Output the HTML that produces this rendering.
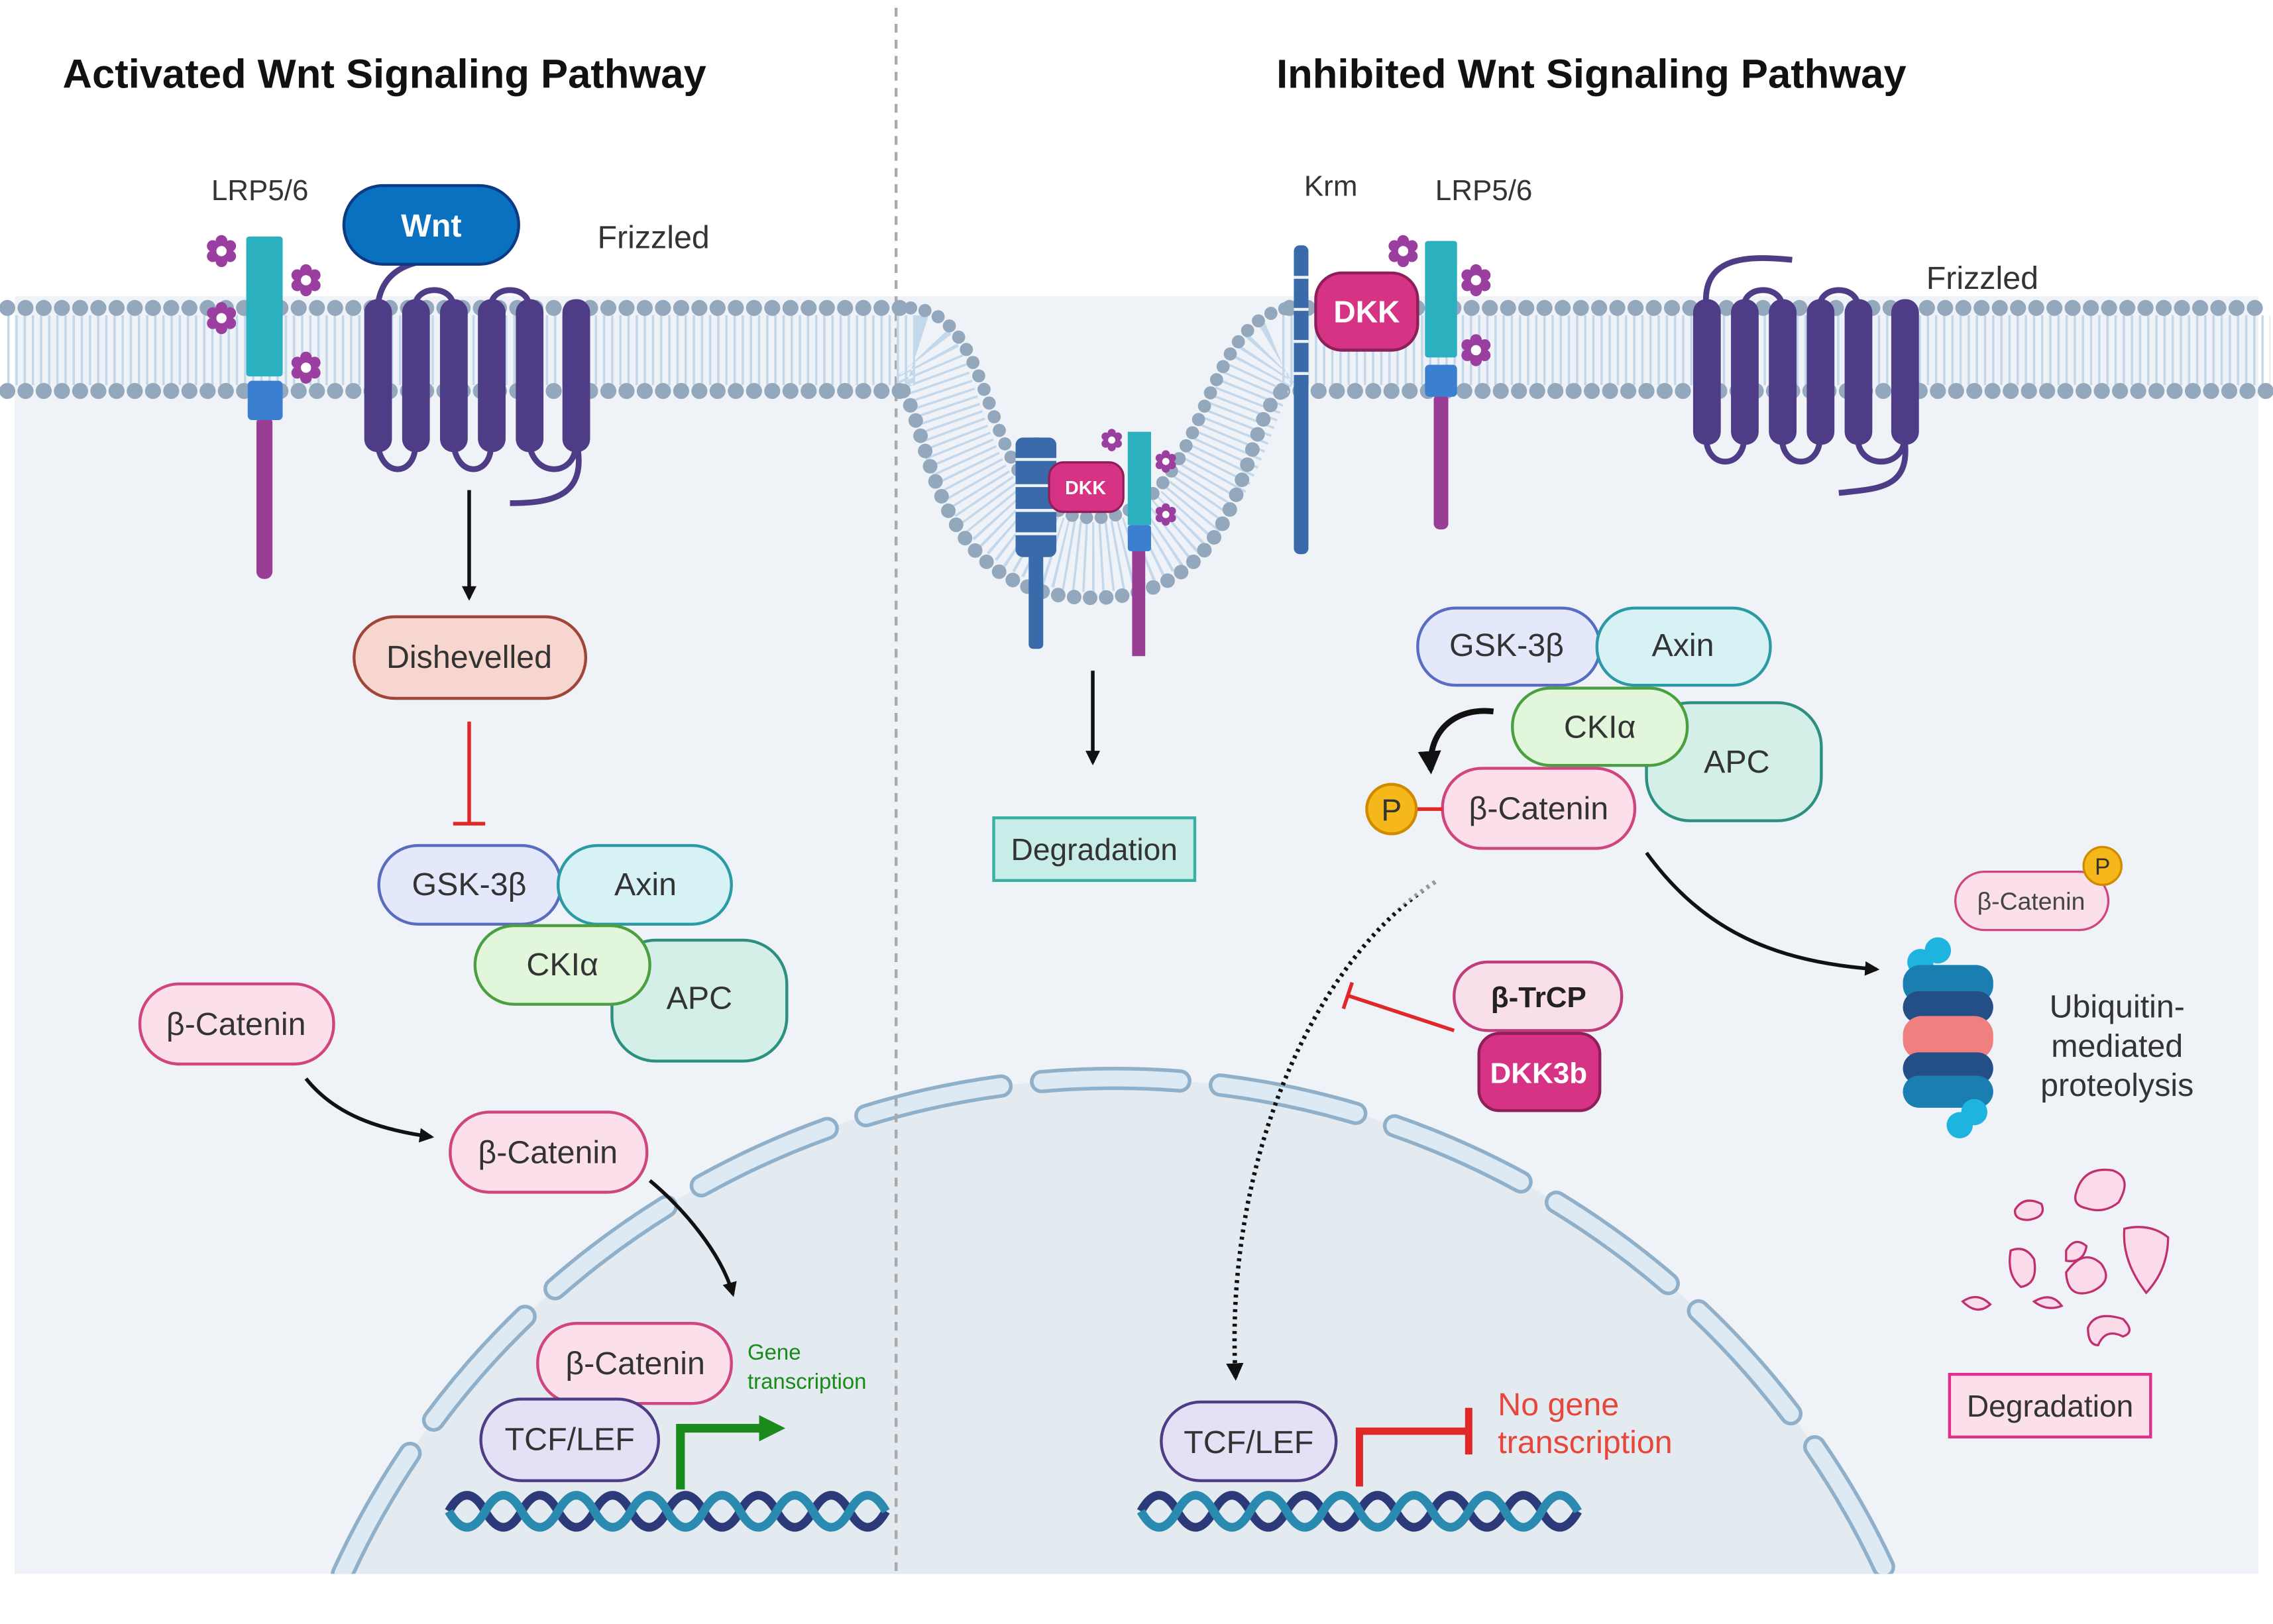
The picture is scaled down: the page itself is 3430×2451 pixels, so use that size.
<!DOCTYPE html>
<html><head><meta charset="utf-8"><style>
html,body{margin:0;padding:0;background:#fff}
svg{display:block}
text{font-family:"Liberation Sans",sans-serif}
</style></head><body>
<svg width="3430" height="2451" viewBox="0 0 1560 1114" xmlns="http://www.w3.org/2000/svg">
<defs>
<marker id="ah" viewBox="0 0 10 10" refX="8" refY="5" markerWidth="4" markerHeight="4" orient="auto"><path d="M0,0L10,5L0,10z" fill="#111"/></marker>
<marker id="ahg" viewBox="0 0 10 10" refX="5" refY="5" markerWidth="3" markerHeight="3" orient="auto"><path d="M0,0L10,5L0,10z" fill="#1a8a1a"/></marker>
<g id="flower" fill="#9a3fa0"><circle cx="0" cy="-7" r="4"/><circle cx="6" cy="-3.5" r="4"/><circle cx="6" cy="3.5" r="4"/><circle cx="0" cy="7" r="4"/><circle cx="-6" cy="3.5" r="4"/><circle cx="-6" cy="-3.5" r="4"/><circle r="6"/><circle r="3.5" fill="#fff"/></g>
<clipPath id="nclip"><rect x="0" y="0" width="1560" height="1080"/></clipPath>
</defs>
<rect width="1560" height="1114" fill="#fff"/>
<rect x="10" y="203" width="1540" height="877" fill="#eff3f8"/>
<g clip-path="url(#nclip)">
<path d="M235,1080 A583,583 0 0 1 1295,1080 Z" fill="#e3eaf0"/>
<path d="M235,1080 A583,583 0 0 1 1295,1080" fill="none" stroke="#8fb0c8" stroke-width="16" stroke-dasharray="95 28" stroke-linecap="round"/>
<path d="M235,1080 A583,583 0 0 1 1295,1080" fill="none" stroke="#dde9f3" stroke-width="11" stroke-dasharray="95 28" stroke-linecap="round"/>
</g>
<line x1="615" y1="5" x2="615" y2="1082" stroke="#aaa" stroke-width="2" stroke-dasharray="6 5"/>
<text x="43" y="60" font-size="28" font-weight="bold" fill="#111">Activated Wnt Signaling Pathway</text>
<text x="876" y="60" font-size="28" font-weight="bold" fill="#111">Inhibited Wnt Signaling Pathway</text>
<g fill="none">
<path d="M5,240 H628" stroke="#c3d8ea" stroke-width="48" stroke-dasharray="1.6 4"/>
<path d="M880,240 H1558" stroke="#c3d8ea" stroke-width="48" stroke-dasharray="1.6 4"/>
<path d="M5,211 H625 M5,268 H620 M885,211 H1558 M880,268 H1558" stroke="#93a8bc" stroke-width="11" stroke-linecap="round" stroke-dasharray="0 12.5"/>
<path d="M628,240 C650,240 650,382 750,382 C850,382 850,240 880,240" stroke="#c3d8ea" stroke-width="48" stroke-dasharray="1.6 4"/>
<path d="M620,268 C640,300 640,410 750,410 C860,410 850,290 880,268" stroke="#93a8bc" stroke-width="10" stroke-linecap="round" stroke-dasharray="0 11"/>
<path d="M625,211 C690,215 670,355 750,355 C830,355 820,220 885,211" stroke="#93a8bc" stroke-width="9" stroke-linecap="round" stroke-dasharray="0 10"/>
</g>
<rect x="176" y="285" width="11" height="112" rx="5" fill="#9a3d94"/>
<rect x="169" y="162" width="25" height="96" rx="2" fill="#2bb0c0"/>
<rect x="170" y="261" width="24" height="27" rx="3" fill="#3a7fd0"/>
<use href="#flower" x="152" y="172"/><use href="#flower" x="210" y="192"/><use href="#flower" x="152" y="218"/><use href="#flower" x="210" y="252"/>
<text x="145" y="137" font-size="20" fill="#333">LRP5/6</text>
<text x="410" y="170" font-size="22" fill="#333">Frizzled</text>
<g fill="#4e3d86">
<rect x="250" y="205" width="19" height="105" rx="9"/><rect x="276" y="205" width="19" height="105" rx="9"/><rect x="302" y="205" width="19" height="105" rx="9"/><rect x="328" y="205" width="19" height="105" rx="9"/><rect x="354" y="205" width="19" height="105" rx="9"/><rect x="386" y="205" width="19" height="105" rx="9"/>
</g>
<path d="M259,215 C259,175 300,178 310,178 M285,210 C285,195 311,195 311,210 M337,210 C337,195 363,195 363,210 M259,300 C259,328 285,328 285,305 M311,300 C311,328 337,328 337,305 M363,300 C363,328 395,328 395,305 M395,300 C405,340 380,345 350,345" fill="none" stroke="#4e3d86" stroke-width="4"/>
<rect x="236" y="127" width="120" height="54" rx="27" fill="#0a70c0" stroke="#0c3a85" stroke-width="2"/>
<text x="296" y="162" font-size="22" font-weight="bold" fill="#fff" text-anchor="middle">Wnt</text>
<line x1="322" y1="336" x2="322" y2="410" stroke="#111" stroke-width="2.5" marker-end="url(#ah)"/>
<rect x="243" y="423" width="159" height="56" rx="28" fill="#f6d6cf" stroke="#a0453a" stroke-width="2"/>
<text x="322" y="458" font-size="22" fill="#333" text-anchor="middle">Dishevelled</text>
<path d="M322,495 V565 M311,565 H333" stroke="#e02828" stroke-width="2.5"/>
<rect x="420" y="645" width="120" height="83" rx="30" fill="#d3efe8" stroke="#2c8f80" stroke-width="2"/>
<text x="480" y="692" font-size="22" fill="#333" text-anchor="middle">APC</text>
<rect x="260" y="580" width="125" height="54" rx="27" fill="#e3e8fb" stroke="#5a6cc0" stroke-width="2"/>
<text x="322" y="614" font-size="22" fill="#333" text-anchor="middle">GSK-3β</text>
<rect x="383" y="580" width="119" height="54" rx="27" fill="#d6f2f5" stroke="#2a9aa5" stroke-width="2"/>
<text x="443" y="614" font-size="22" fill="#333" text-anchor="middle">Axin</text>
<rect x="326" y="635" width="120" height="54" rx="27" fill="#e2f6dc" stroke="#4aa040" stroke-width="2"/>
<text x="386" y="669" font-size="22" fill="#333" text-anchor="middle">CKIα</text>
<g font-size="22" fill="#333" text-anchor="middle">
<rect x="96" y="675" width="133" height="55" rx="27" fill="#fbe0ec" stroke="#d0457d" stroke-width="2"/><text x="162" y="710">β-Catenin</text>
<rect x="309" y="763" width="135" height="55" rx="27" fill="#fbe0ec" stroke="#d0457d" stroke-width="2"/><text x="376" y="798">β-Catenin</text>
<rect x="369" y="908" width="133" height="55" rx="27" fill="#fbe0ec" stroke="#d0457d" stroke-width="2"/><text x="436" y="943">β-Catenin</text>
<rect x="330" y="960" width="122" height="56" rx="28" fill="#e4e0f5" stroke="#4e3d86" stroke-width="2"/><text x="391" y="995">TCF/LEF</text>
</g>
<path d="M210,740 C230,765 260,775 296,780" fill="none" stroke="#111" stroke-width="2.5" marker-end="url(#ah)"/>
<path d="M446,810 C470,830 495,860 503,888" fill="none" stroke="#111" stroke-width="2.5" marker-end="url(#ah)"/>
<text x="513" y="933" font-size="15" fill="#1a8a1a">Gene</text>
<text x="513" y="953" font-size="15" fill="#1a8a1a">transcription</text>
<path d="M467,1022 V980 H530" fill="none" stroke="#1a8a1a" stroke-width="6" marker-end="url(#ahg)"/>
<g fill="none" stroke-width="6">
<path d="M308,1037 Q320.5,1015 333,1037 T358,1037 T383,1037 T408,1037 T433,1037 T458,1037 T483,1037 T508,1037 T533,1037 T558,1037 T583,1037 T608,1037" stroke="#2c3a7a"/>
<path d="M308,1037 Q320.5,1059 333,1037 T358,1037 T383,1037 T408,1037 T433,1037 T458,1037 T483,1037 T508,1037 T533,1037 T558,1037 T583,1037 T608,1037" stroke="#2a8ab0"/>
<path d="M783,1037 Q795.5,1015 808,1037 T833,1037 T858,1037 T883,1037 T908,1037 T933,1037 T958,1037 T983,1037 T1008,1037 T1033,1037 T1058,1037 T1083,1037" stroke="#2c3a7a"/>
<path d="M783,1037 Q795.5,1059 808,1037 T833,1037 T858,1037 T883,1037 T908,1037 T933,1037 T958,1037 T983,1037 T1008,1037 T1033,1037 T1058,1037 T1083,1037" stroke="#2a8ab0"/>
</g>
<rect x="888" y="168" width="10" height="212" rx="4" fill="#3a6aaa"/>
<path d="M888,190 h10 M888,212 h10 M888,234 h10 M888,256 h10" stroke="#eff3f8" stroke-width="2"/>
<rect x="984" y="270" width="10" height="93" rx="4" fill="#9a3d94"/>
<rect x="978" y="165" width="22" height="80" rx="2" fill="#2bb0c0"/>
<rect x="978" y="250" width="22" height="22" rx="3" fill="#3a7fd0"/>
<rect x="903" y="187" width="70" height="53" rx="18" fill="#d63384" stroke="#8e1f5a" stroke-width="2"/>
<text x="938" y="221" font-size="21" font-weight="bold" fill="#fff" text-anchor="middle">DKK</text>
<use href="#flower" x="963" y="172"/><use href="#flower" x="1013" y="192"/><use href="#flower" x="1013" y="240"/>
<text x="895" y="134" font-size="20" fill="#333">Krm</text>
<text x="985" y="137" font-size="20" fill="#333">LRP5/6</text>
<text x="1322" y="198" font-size="22" fill="#333">Frizzled</text>
<g fill="#4e3d86">
<rect x="1162" y="205" width="19" height="100" rx="9"/><rect x="1188" y="205" width="19" height="100" rx="9"/><rect x="1214" y="205" width="19" height="100" rx="9"/><rect x="1240" y="205" width="19" height="100" rx="9"/><rect x="1266" y="205" width="19" height="100" rx="9"/><rect x="1298" y="205" width="19" height="100" rx="9"/>
</g>
<path d="M1171,210 C1168,175 1200,175 1230,178 M1197,210 C1197,195 1223,195 1223,210 M1249,210 C1249,195 1275,195 1275,210 M1171,300 C1171,322 1197,322 1197,300 M1223,300 C1223,322 1249,322 1249,300 M1275,300 C1275,322 1307,322 1307,300 M1307,300 C1312,335 1290,335 1262,338" fill="none" stroke="#4e3d86" stroke-width="4"/>
<rect x="706" y="300" width="10" height="145" rx="3" fill="#3a6aaa"/>
<rect x="697" y="300" width="28" height="82" rx="5" fill="#3a6aaa"/>
<path d="M697,315 h28 M697,333 h28 M697,350 h28 M697,366 h28" stroke="#eff3f8" stroke-width="2"/>
<rect x="777" y="375" width="9" height="75" fill="#9a3d94"/>
<rect x="774" y="296" width="16" height="64" fill="#2bb0c0"/>
<rect x="774" y="360" width="16" height="18" rx="2" fill="#3a7fd0"/>
<rect x="720" y="317" width="51" height="34" rx="10" fill="#d63384" stroke="#8e1f5a" stroke-width="1.5"/>
<text x="745" y="339" font-size="13" font-weight="bold" fill="#fff" text-anchor="middle">DKK</text>
<g transform="scale(0.7)"><use href="#flower" x="1090" y="431"/><use href="#flower" x="1143" y="452"/><use href="#flower" x="1143" y="504"/></g>
<line x1="750" y1="460" x2="750" y2="523" stroke="#111" stroke-width="2.5" marker-end="url(#ah)"/>
<rect x="682" y="561" width="138" height="43" fill="#c8ece8" stroke="#3ab0a5" stroke-width="2"/>
<text x="751" y="590" font-size="21" fill="#333" text-anchor="middle">Degradation</text>
<rect x="1130" y="482" width="120" height="81" rx="30" fill="#d3efe8" stroke="#2c8f80" stroke-width="2"/>
<text x="1192" y="530" font-size="22" fill="#333" text-anchor="middle">APC</text>
<rect x="973" y="417" width="125" height="53" rx="26" fill="#e3e8fb" stroke="#5a6cc0" stroke-width="2"/>
<text x="1034" y="450" font-size="22" fill="#333" text-anchor="middle">GSK-3β</text>
<rect x="1096" y="417" width="119" height="53" rx="26" fill="#d6f2f5" stroke="#2a9aa5" stroke-width="2"/>
<text x="1155" y="450" font-size="22" fill="#333" text-anchor="middle">Axin</text>
<rect x="1038" y="472" width="120" height="53" rx="26" fill="#e2f6dc" stroke="#4aa040" stroke-width="2"/>
<text x="1098" y="506" font-size="22" fill="#333" text-anchor="middle">CKIα</text>
<rect x="990" y="527" width="132" height="55" rx="27" fill="#fbe0ec" stroke="#d0457d" stroke-width="2"/>
<text x="1056" y="562" font-size="22" fill="#333" text-anchor="middle">β-Catenin</text>
<line x1="972" y1="555" x2="990" y2="555" stroke="#e02828" stroke-width="2.5"/>
<circle cx="955" cy="555" r="17" fill="#f5b71a" stroke="#d08a00" stroke-width="2"/>
<text x="955" y="563" font-size="21" fill="#333" text-anchor="middle">P</text>
<path d="M1025,488 C1000,485 980,500 982,528" fill="none" stroke="#111" stroke-width="4" marker-end="url(#ah)"/>
<path d="M985,605 C900,660 840,800 848,945" fill="none" stroke="#111" stroke-width="3" stroke-dasharray="2 3" marker-end="url(#ah)"/>
<path d="M985,605 C950,625 920,650 900,680" fill="none" stroke="#eff3f8" stroke-width="4" opacity="0.6"/>
<path d="M998,707 L925,683 M922,692 L928,674" stroke="#e02828" stroke-width="2.5"/>
<rect x="998" y="660" width="115" height="47" rx="23" fill="#f9dfea" stroke="#c03d7c" stroke-width="2"/>
<text x="1056" y="691" font-size="20" font-weight="bold" fill="#222" text-anchor="middle">β-TrCP</text>
<rect x="1015" y="709" width="83" height="53" rx="14" fill="#d63384" stroke="#8e1f5a" stroke-width="2"/>
<text x="1056" y="743" font-size="20" font-weight="bold" fill="#fff" text-anchor="middle">DKK3b</text>
<path d="M1130,585 C1170,640 1220,660 1288,665" fill="none" stroke="#111" stroke-width="2.5" marker-end="url(#ah)"/>
<rect x="1342" y="598" width="105" height="40" rx="20" fill="#fbe0ec" stroke="#d0457d" stroke-width="1.5"/>
<text x="1394" y="624" font-size="17" fill="#444" text-anchor="middle">β-Catenin</text>
<circle cx="1443" cy="594" r="13" fill="#f5b71a" stroke="#d08a00" stroke-width="1.5"/>
<text x="1443" y="600" font-size="16" fill="#333" text-anchor="middle">P</text>
<g>
<circle cx="1330" cy="652" r="9" fill="#1fb4e0"/><circle cx="1318" cy="660" r="9" fill="#1fb4e0"/>
<rect x="1306" y="662" width="62" height="26" rx="12" fill="#1a7fb0"/>
<rect x="1306" y="680" width="62" height="22" rx="11" fill="#244f86"/>
<rect x="1306" y="697" width="62" height="30" rx="13" fill="#f08080"/>
<rect x="1306" y="722" width="62" height="22" rx="11" fill="#244f86"/>
<rect x="1306" y="738" width="62" height="22" rx="11" fill="#1a7fb0"/>
<circle cx="1355" cy="763" r="9" fill="#1fb4e0"/><circle cx="1345" cy="772" r="9" fill="#1fb4e0"/>
</g>
<g font-size="22" fill="#333" text-anchor="middle">
<text x="1453" y="698">Ubiquitin-</text><text x="1453" y="725">mediated</text><text x="1453" y="752">proteolysis</text>
</g>
<g fill="#fbdbe9" stroke="#c0306e" stroke-width="1.5">
<path d="M1425,818 q5,-18 25,-15 q14,5 4,22 q-10,8 -22,4 q-10,-2 -7,-11z"/>
<path d="M1383,830 q6,-10 18,-4 q4,9 -9,11 q-10,0 -9,-7z"/>
<path d="M1458,843 q18,-4 30,6 q0,22 -15,38 q-17,-22 -15,-44z"/>
<path d="M1380,858 q10,-4 16,6 q3,17 -9,19 q-10,-8 -7,-25z"/>
<path d="M1418,858 q6,-10 14,-3 q-2,12 -14,10z"/>
<path d="M1418,873 q12,-17 24,-6 q9,12 -6,19 q-17,6 -18,-13z"/>
<path d="M1347,893 q10,-7 19,2 q-9,8 -19,-2z"/>
<path d="M1396,893 q12,-7 19,3 q-10,4 -19,-3z"/>
<path d="M1433,911 q5,-12 24,-6 q9,9 0,12 q-12,-6 -17,6 q-7,0 -7,-12z"/>
</g>
<rect x="1338" y="943" width="138" height="43" fill="#fbe0ec" stroke="#e0308a" stroke-width="2"/>
<text x="1407" y="972" font-size="21" fill="#333" text-anchor="middle">Degradation</text>
<rect x="797" y="962" width="120" height="54" rx="27" fill="#e4e0f5" stroke="#4e3d86" stroke-width="2"/>
<text x="857" y="997" font-size="22" fill="#333" text-anchor="middle">TCF/LEF</text>
<path d="M933,1020 V982 H1008 M1008,966 V998" fill="none" stroke="#e02828" stroke-width="5"/>
<text x="1028" y="971" font-size="22" fill="#e8463a">No gene</text>
<text x="1028" y="997" font-size="22" fill="#e8463a">transcription</text>
</svg>
</body></html>
